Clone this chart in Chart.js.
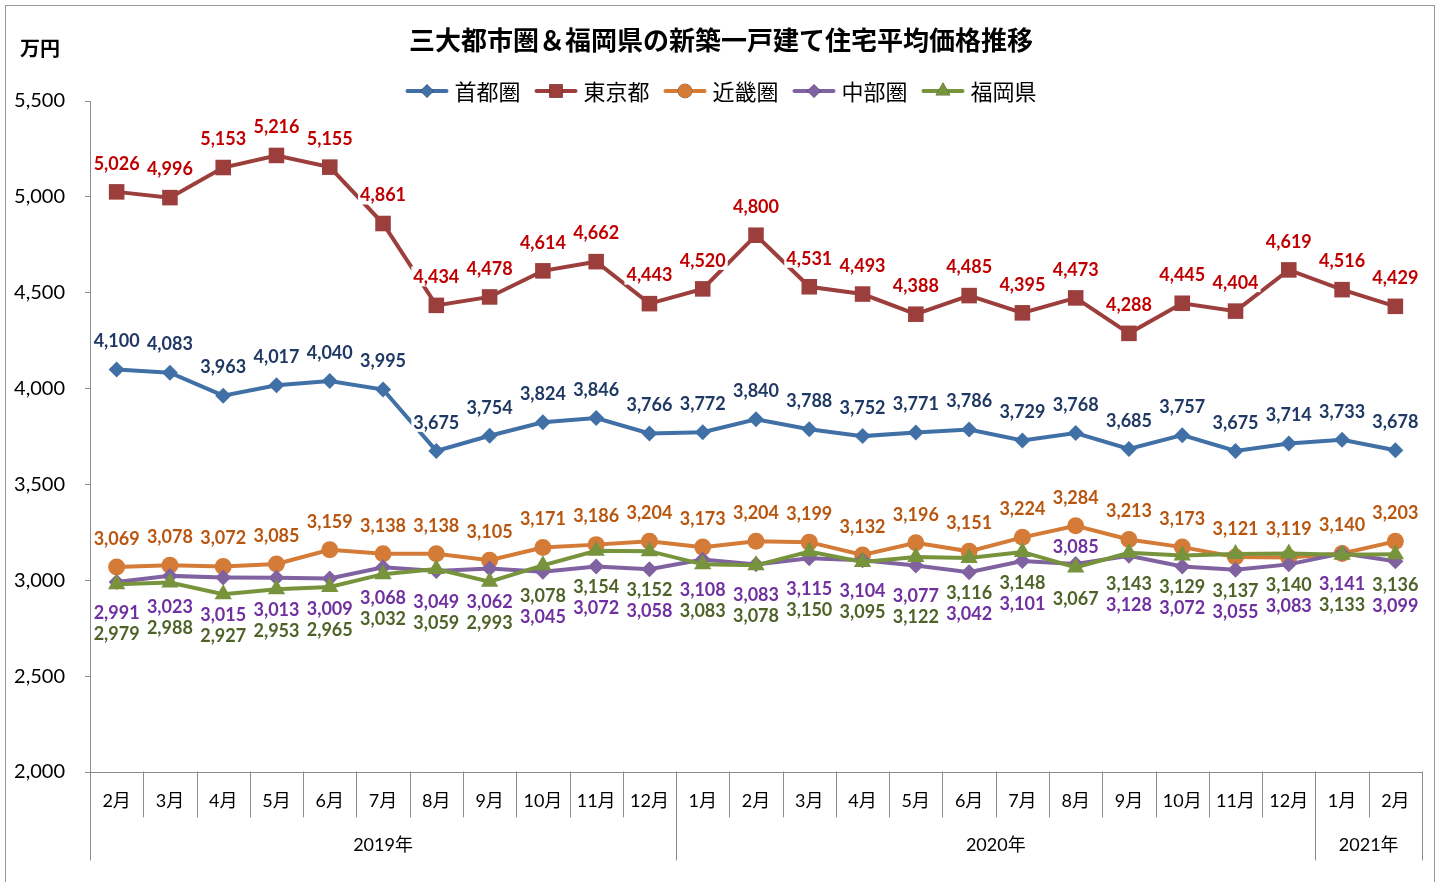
<!DOCTYPE html>
<html>
<head>
<meta charset="utf-8">
<script src="https://cdn.jsdelivr.net/npm/chart.js@4.4.1/dist/chart.umd.min.js"></script>
<style>
  html, body { margin: 0; padding: 0; background: #fff; }
  #wrap { width: 1444px; height: 882px; position: relative; }
</style>
</head>
<body>
<div id="wrap"><canvas id="c" width="1444" height="882"></canvas></div>
<script>
// ---- data ----
const months = ['2月','3月','4月','5月','6月','7月','8月','9月','10月','11月','12月',
                '1月','2月','3月','4月','5月','6月','7月','8月','9月','10月','11月','12月',
                '1月','2月'];
const yearLabels = ['2019年','2020年','2021年'];
const yearSpans = [11, 12, 2];

const shutoken = [4100,4083,3963,4017,4040,3995,3675,3754,3824,3846,3766,3772,3840,3788,3752,3771,3786,3729,3768,3685,3757,3675,3714,3733,3678];
const tokyo    = [5026,4996,5153,5216,5155,4861,4434,4478,4614,4662,4443,4520,4800,4531,4493,4388,4485,4395,4473,4288,4445,4404,4619,4516,4429];
const kinki    = [3069,3078,3072,3085,3159,3138,3138,3105,3171,3186,3204,3173,3204,3199,3132,3196,3151,3224,3284,3213,3173,3121,3119,3140,3203];
const chubu    = [2991,3023,3015,3013,3009,3068,3049,3062,3045,3072,3058,3108,3083,3115,3104,3077,3042,3101,3085,3128,3072,3055,3083,3141,3099];
const fukuoka  = [2979,2988,2927,2953,2965,3032,3059,2993,3078,3154,3152,3083,3078,3150,3095,3122,3116,3148,3067,3143,3129,3137,3140,3133,3136];

const seriesNames = ['首都圏','東京都','近畿圏','中部圏','福岡県'];
const yTicks = [2000, 2500, 3000, 3500, 4000, 4500, 5000, 5500];

// label stacking for 中部圏/福岡県 (p = 中部圏 first, g = 福岡県 first, x = 中部圏 above)
const lowerOrder = 'pppppppp' + 'ggg' + 'ppppp' + 'gg' + 'x' + 'gggg' + 'p' + 'g';

// ---- styles ----
const lineColors  = ['#4170A6','#9C3F3C','#D47B38','#8062A0','#77943D'];
const labelColors = ['#1F3864','#C00000','#B8560F','#7030A0','#4F6228'];
const pointStyles = ['rectRot','rect','circle','rectRot','triangle'];
const pointRadii  = [8, 11, 8.5, 8, 10];
const dataArrays  = [shutoken, tokyo, kinki, chubu, fukuoka];
const drawOrder   = [4, 3, 2, 1, 0];

const fmt = v => v.toLocaleString('en-US');
const numFont = 'Lato, "Noto Sans CJK JP", sans-serif';
const jpFont = '"Noto Sans CJK JP", sans-serif';

const deco = {
  id: 'deco',
  beforeDraw(chart) {
    const ctx = chart.ctx;
    ctx.save();
    ctx.fillStyle = '#fff';
    ctx.fillRect(0, 0, chart.width, chart.height);
    ctx.strokeStyle = '#9a9a9a';
    ctx.lineWidth = 1;
    ctx.strokeRect(5.5, 5.5, 1429, 882);
    ctx.restore();
  },
  afterDatasetsDraw(chart) {
    const ctx = chart.ctx;
    ctx.save();
    ctx.font = 'bold 18px ' + numFont;
    ctx.textAlign = 'center';
    ctx.textBaseline = 'middle';
    const drawLabel = (txt, x, y, color) => {
      const w = ctx.measureText(txt).width;
      ctx.fillStyle = '#fff';
      ctx.fillRect(x - w / 2 - 2, y - 10, w + 4, 20);
      ctx.fillStyle = color;
      ctx.fillText(txt, x, y + 1);
    };
    // upper labels: 首都圏, 東京都, 近畿圏
    [0, 1, 2].forEach(si => {
      const meta = chart.getDatasetMeta(si);
      meta.data.forEach((pt, j) => {
        drawLabel(fmt(dataArrays[si][j]), pt.x, pt.y - 29, labelColors[si]);
      });
    });
    // lower labels: 中部圏 (3), 福岡県 (4)
    const metas = [null, null, null, chart.getDatasetMeta(3).data, chart.getDatasetMeta(4).data];
    for (let j = 0; j < months.length; j++) {
      const x = metas[3][j].x;
      const o = lowerOrder[j];
      if (o === 'x') {
        drawLabel(fmt(chubu[j]), x, metas[3][j].y - 18, labelColors[3]);
        drawLabel(fmt(fukuoka[j]), x, metas[4][j].y + 31, labelColors[4]);
      } else {
        const first = o === 'p' ? 3 : 4;
        const second = o === 'p' ? 4 : 3;
        const fy = metas[first][j].y, sy = metas[second][j].y;
        const y1 = Math.max(fy + 30, sy + 20);
        const y2 = Math.max(y1 + 21, sy + 30);
        drawLabel(fmt(dataArrays[first][j]), x, y1, labelColors[first]);
        drawLabel(fmt(dataArrays[second][j]), x, y2, labelColors[second]);
      }
    }
    ctx.restore();
  },
  afterDraw(chart) {
    const ctx = chart.ctx;
    const ca = chart.chartArea;
    const xs = chart.scales.x;
    ctx.save();
    // title
    ctx.fillStyle = '#000';
    ctx.textAlign = 'center';
    ctx.textBaseline = 'middle';
    ctx.font = 'bold 26px ' + jpFont;
    ctx.fillText('三大都市圏＆福岡県の新築一戸建て住宅平均価格推移', 721, 40);
    // unit
    ctx.font = 'bold 20px ' + jpFont;
    ctx.textAlign = 'left';
    ctx.fillText('万円', 20, 48);
    // legend
    ctx.font = '22px ' + jpFont;
    const lineW = 43, gap = 6, itemGap = 14;
    const widths = seriesNames.map(n => ctx.measureText(n).width);
    const total = widths.reduce((a, b) => a + b, 0) + seriesNames.length * (lineW + gap) + (seriesNames.length - 1) * itemGap;
    let lx = 721 - total / 2;
    const ly = 91;
    seriesNames.forEach((n, i) => {
      ctx.strokeStyle = lineColors[i];
      ctx.lineWidth = 4;
      ctx.lineCap = 'round';
      ctx.beginPath();
      ctx.moveTo(lx + 2, ly);
      ctx.lineTo(lx + lineW - 2, ly);
      ctx.stroke();
      Chart.helpers.drawPoint(ctx, {
        pointStyle: pointStyles[i], radius: pointRadii[i] * 0.85, borderWidth: 0
      }, lx + lineW / 2, ly);
      ctx.fillStyle = lineColors[i];
      ctx.fill();
      ctx.fillStyle = '#000';
      ctx.textAlign = 'left';
      ctx.fillText(n, lx + lineW + gap, ly + 1);
      lx += lineW + gap + widths[i] + itemGap;
    });
    // x axis decoration
    const step = xs.getPixelForValue(1) - xs.getPixelForValue(0);
    const left = xs.getPixelForValue(0) - step / 2;
    ctx.strokeStyle = '#8c8c8c';
    ctx.lineWidth = 1;
    ctx.beginPath();
    ctx.moveTo(left, Math.round(ca.bottom) + 0.5);
    ctx.lineTo(left + step * months.length, Math.round(ca.bottom) + 0.5);
    ctx.stroke();
    const yearBounds = [0];
    yearSpans.reduce((acc, s) => { yearBounds.push(acc + s); return acc + s; }, 0);
    for (let i = 0; i <= months.length; i++) {
      const bx = Math.round(left + i * step) + 0.5;
      const isYear = yearBounds.includes(i);
      ctx.beginPath();
      ctx.moveTo(bx, ca.bottom);
      ctx.lineTo(bx, isYear ? 860 : 817);
      ctx.stroke();
    }
    ctx.fillStyle = '#000';
    ctx.textAlign = 'center';
    ctx.font = '18px ' + numFont;
    months.forEach((m, i) => {
      ctx.fillText(m, xs.getPixelForValue(i), 801);
    });
    yearLabels.forEach((y, k) => {
      const a = yearBounds[k], b = yearBounds[k + 1];
      const cx = left + (a + b) / 2 * step;
      ctx.fillText(y, cx, 845);
    });
    ctx.restore();
  }
};

const datasets = seriesNames.map((n, i) => ({
  label: n,
  data: dataArrays[i],
  borderColor: lineColors[i],
  backgroundColor: lineColors[i],
  pointBackgroundColor: lineColors[i],
  pointBorderColor: lineColors[i],
  pointBorderWidth: 0,
  borderWidth: 4,
  pointStyle: pointStyles[i],
  pointRadius: pointRadii[i],
  pointHoverRadius: pointRadii[i],
  tension: 0,
  order: drawOrder[i]
}));

new Chart(document.getElementById('c'), {
  type: 'line',
  data: { labels: months, datasets },
  options: {
    responsive: false,
    animation: false,
    events: [],
    layout: { padding: { top: 101, bottom: 110, left: 12, right: 22 } },
    plugins: { legend: { display: false }, title: { display: false }, tooltip: { enabled: false } },
    scales: {
      x: {
        type: 'category',
        offset: true,
        grid: { display: false },
        border: { display: false },
        ticks: { display: false },
        afterFit: s => { s.height = 0; }
      },
      y: {
        min: 2000,
        max: 5500,
        afterBuildTicks: s => { s.ticks = yTicks.map(v => ({ value: v })); },
        afterFit: s => { s.width = 78; },
        grid: { drawOnChartArea: false, drawTicks: true, tickLength: 5, color: '#8c8c8c' },
        border: { display: true, color: '#8c8c8c', width: 1 },
        ticks: {
          padding: 20,
          color: '#000',
          font: { family: 'Lato, sans-serif', size: 20 },
          callback: v => fmt(v)
        }
      }
    }
  },
  plugins: [deco]
});
</script>
</body>
</html>
